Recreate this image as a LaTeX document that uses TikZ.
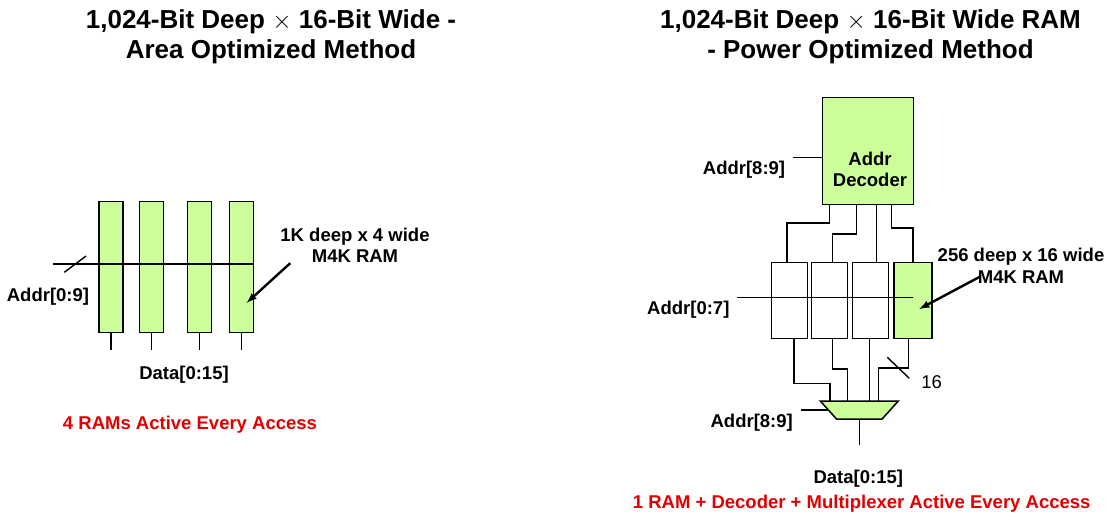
\documentclass[tikz,border=0pt]{standalone}
\usepackage{fontspec}
\setmainfont{Liberation Sans}
\usetikzlibrary{arrows}
\usetikzlibrary{positioning}
\definecolor{ramgreen}{RGB}{204,255,153}
\definecolor{notered}{RGB}{224,0,0}
\tikzstyle{title} = [align=center, inner sep=0pt, font=\fontsize{26}{30}\selectfont\bfseries]
\tikzstyle{lbl} = [align=center, inner sep=0pt, font=\fontsize{18.5}{21.5}\selectfont\bfseries]
\tikzstyle{note} = [lbl, text=notered]
\tikzstyle{ramtall} = [rectangle, draw=black, fill=ramgreen, line width=1.5pt, minimum width=24pt, minimum height=131pt, inner sep=0pt]
\tikzstyle{ramshort} = [rectangle, draw=black, fill=white, line width=1.5pt, minimum width=36pt, minimum height=75.6pt, inner sep=0pt]
\tikzstyle{decoder} = [rectangle, draw=black, fill=ramgreen, line width=1.5pt, minimum width=90.6pt, minimum height=107pt, inner sep=0pt]
\tikzstyle{muxbody} = [draw=black, fill=ramgreen, line width=1.5pt]
\tikzstyle{wire} = [line width=1.4pt]
\tikzstyle{pointer} = [-latex, line width=2.4pt]

\begin{document}
\begin{tikzpicture}[x=1pt, y=-1pt]
 \useasboundingbox (0,0) rectangle (1110,514);

 \node (titleA) [title] at (271,37) {1,024-Bit Deep $\times$ 16-Bit Wide -\\Area Optimized Method};
 \node (titleB) [title] at (870.5,37) {1,024-Bit Deep $\times$ 16-Bit Wide RAM\\- Power Optimized Method};

 \node (ramA1) [ramtall] at (110.9,266.8) {};
 \node (ramA2) [ramtall] at (151.3,266.8) {};
 \node (ramA3) [ramtall] at (199.7,266.8) {};
 \node (ramA4) [ramtall] at (241.3,266.8) {};

 \coordinate (addrA) at (53.3,264);
 \draw[wire] (addrA) -- (addrA -| ramA4.east);
 \draw[wire] ([shift={(11,8.3)}]addrA) -- ++(21.7,-16.3);
 \foreach \r in {ramA1,ramA2,ramA3,ramA4}
  \draw[wire] (\r.south) -- ++(0,17);

 \node (addrAlbl) [lbl] at (48,296.7) {Addr[0:9]};
 \node (dataAlbl) [lbl] at (184,375) {Data[0:15]};
 \node (noteA) [note] at (190,424.3) {4 RAMs Active Every Access};
 \node (ramAlbl) [lbl] at (355,245.5) {1K deep x 4 wide\\M4K RAM};
 \draw[pointer] ([xshift=10pt]ramAlbl.south west) -- ([shift={(5.4,36)}]ramA4.center);

 \node (dec) [decoder] at (868,150.8) {};
 \node (dectext) [lbl] at (870,169.5) {Addr\\Decoder};
 \coordinate (decin) at (792.7,157.3);
 \draw[wire] (decin) -- (decin -| dec.west);
 \node (decinlbl) [lbl] at (744,170) {Addr[8:9]};

 \node (ramB1) [ramshort] at (789.5,300.5) {};
 \node (ramB2) [ramshort] at (829.5,300.5) {};
 \node (ramB3) [ramshort] at (870.3,300.5) {};
 \node (ramB4) [ramshort, fill=ramgreen, minimum width=38pt] at (913,300.5) {};

 \draw[wire] ([xshift=-38.7pt]dec.south) -- ++(0,18) -| ([xshift=-2.5pt]ramB1.north);
 \draw[wire] ([xshift=-11.3pt]dec.south) -- ++(0,29) -| ([xshift=3.2pt]ramB2.north);
 \draw[wire] ([xshift=8.3pt]dec.south) -- ([xshift=6pt]ramB3.north);
 \draw[wire] ([xshift=23.7pt]dec.south) -- ++(0,23) -| (ramB4.north);

 \coordinate (addrB) at (736.7,297.7);
 \draw[wire] (addrB) -- (addrB -| ramB4.center);
 \node (addrBlbl) [lbl] at (688.3,310) {Addr[0:7]};
 \node (ramBlbl) [lbl] at (1021,266) {256 deep x 16 wide\\M4K RAM};
 \draw[pointer] ([shift={(-41,-7)}]ramBlbl.south) -- ([shift={(6.3,8.5)}]ramB4.center);

 \coordinate (mux) at (859.3,410);
 \coordinate (muxN) at ([shift={(0,-9)}]mux);
 \coordinate (muxS) at ([shift={(0,9)}]mux);
 \coordinate (muxW) at ([shift={(-31,0)}]mux);
 \draw[muxbody] ([shift={(-39,-9)}]mux) -- ++(78,0) -- ++(-16.2,18) -- ++(-45.6,0) -- cycle;

 \draw[wire] ([xshift=4.5pt]ramB1.south) -- ++(0,44.4) -| ([xshift=-29.3pt]muxN);
 \draw[wire] ([xshift=2.8pt]ramB2.south) -- ++(0,30) -| ([xshift=-12pt]muxN);
 \draw[wire] ([xshift=-1pt]ramB3.south) -- ([xshift=10pt]muxN);
 \draw[wire] ([xshift=-4.3pt]ramB4.south) -- ++(0,29) -| ([xshift=19pt]muxN);
 \draw[wire] (887.3,357.3) -- (909.3,378.3);
 \node (buswidth) [lbl, font=\fontsize{18.5}{21.5}\selectfont] at (931.7,381.7) {16};

 \coordinate (muxsel) at (801,410);
 \draw[wire] (muxsel) -- (muxW);
 \node (muxsellbl) [lbl] at (751.7,422.7) {Addr[8:9]};
 \draw[wire] (muxS) -- ++(0,26);
 \node (dataBlbl) [lbl] at (858.3,479) {Data[0:15]};
 \node (noteB) [note] at (861.7,504) {1 RAM + Decoder + Multiplexer Active Every Access};
\end{tikzpicture}
\end{document}
